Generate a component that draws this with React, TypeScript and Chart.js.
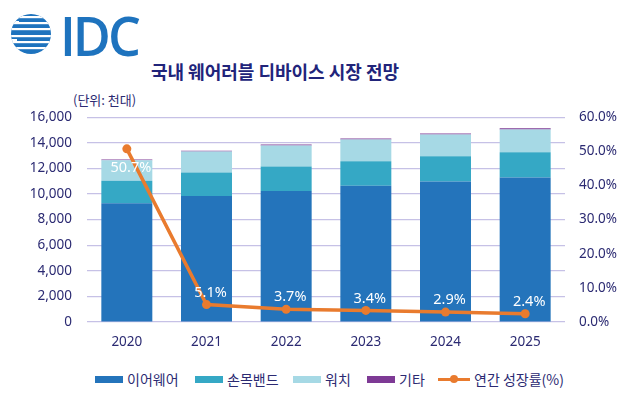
import React, { useEffect, useRef } from "react";
import { Chart, registerables } from "chart.js";

Chart.register(...registerables);

const categories = ["2020", "2021", "2022", "2023", "2024", "2025"];
const earwear = [9270, 9840, 10230, 10640, 10970, 11290];
const wristband = [1760, 1830, 1910, 1920, 1980, 1970];
const watch = [1600, 1650, 1650, 1700, 1700, 1780];
const other = [50, 60, 70, 60, 70, 80];
const growth = [50.7, 5.1, 3.7, 3.4, 2.9, 2.4];

const seriesNames = ["이어웨어", "손목밴드", "워치", "기타", "연간 성장률(%)"];
const colors = ["#2474BB", "#35A8C5", "#A6D9E5", "#7E3A95", "#E97B2E"];

const TITLE = "국내 웨어러블 디바이스 시장 전망";
const UNIT = "(단위: 천대)";

const FONT = "'Noto Sans', 'Noto Sans CJK KR', sans-serif";
const KFONT = "'Noto Sans CJK KR', 'Noto Sans', sans-serif";
const NAVY = "#2B2A72";
const GRID = "#C6C1E6";

const labelPlugin = {
  id: "growthLabels",
  afterDatasetsDraw(chart: any) {
    const idx = chart.data.datasets.findIndex((d: any) => d.type === "line");
    if (idx < 0) return;
    const meta = chart.getDatasetMeta(idx);
    const ctx = chart.ctx;
    ctx.save();
    ctx.fillStyle = "#FFFFFF";
    ctx.font = `14.5px ${FONT}`;
    ctx.textAlign = "center";
    ctx.textBaseline = "middle";
    meta.data.forEach((pt: any, i: number) => {
      const v = chart.data.datasets[idx].data[i];
      const dy = v > 20 ? 19 : -12;
      ctx.fillText(v.toFixed(1) + "%", pt.x + 4, pt.y + dy);
    });
    ctx.restore();
  },
};

function Logo() {
  const stripes = [16, 22, 28, 35, 41, 47];
  return (
    <div style={{ position: "absolute", left: 10, top: 12, height: 44, display: "flex", alignItems: "center" }}>
      <svg width="44" height="44" viewBox="0 0 44 44" style={{ display: "block" }}>
        <defs>
          <clipPath id="gclip">
            <circle cx="21" cy="22" r="20" />
          </clipPath>
        </defs>
        <g clipPath="url(#gclip)">
          <rect x="0" y="0" width="44" height="44" fill="#1E73BE" />
          {stripes.map((y, i) => (
            <rect key={i} x="0" y={y - 12} width="44" height="2.2" fill="#FFFFFF" />
          ))}
          <rect x="0" y="9" width="9" height="2.5" fill="#FFFFFF" />
          <rect x="0" y="27" width="7" height="2.5" fill="#FFFFFF" />
        </g>
      </svg>
      <div
        style={{
          fontFamily: "'Open Sans', sans-serif",
          fontWeight: 600,
          fontSize: 52,
          color: "#1E73BE",
          letterSpacing: -3,
          lineHeight: "44px",
          marginLeft: 6,
          marginTop: 2,
          transform: "scaleY(1.04)",
        }}
      >
        IDC
      </div>
    </div>
  );
}

function Legend() {
  const xs = [95, 195, 293, 367, 438];
  return (
    <>
      {seriesNames.map((name, i) => (
        <div
          key={name}
          style={{ position: "absolute", left: xs[i], top: 369, height: 20, display: "flex", alignItems: "center" }}
        >
          {i < 4 ? (
            <div style={{ width: 28, height: 7, background: colors[i] }} />
          ) : (
            <div style={{ position: "relative", width: 32, height: 10 }}>
              <div style={{ position: "absolute", left: 0, top: 3.5, width: 32, height: 3, background: colors[i] }} />
              <div
                style={{
                  position: "absolute",
                  left: 12,
                  top: 1,
                  width: 8,
                  height: 8,
                  borderRadius: 4,
                  background: colors[i],
                }}
              />
            </div>
          )}
          <span style={{ marginLeft: 4, fontFamily: KFONT, fontSize: 14, color: NAVY, whiteSpace: "nowrap" }}>
            {name}
          </span>
        </div>
      ))}
    </>
  );
}

export default function App() {
  const canvasRef = useRef<HTMLCanvasElement | null>(null);

  useEffect(() => {
    if (!canvasRef.current) return;
    const barSets = [earwear, wristband, watch, other].map((d, i) => ({
      type: "bar" as const,
      label: seriesNames[i],
      data: d,
      backgroundColor: colors[i],
      borderWidth: 0,
      yAxisID: "y",
      order: 1,
      barPercentage: 0.64,
      categoryPercentage: 1,
      stack: "s",
    }));
    const chart = new Chart(canvasRef.current, {
      type: "bar",
      data: {
        labels: categories,
        datasets: [
          ...barSets,
          {
            type: "line" as const,
            label: seriesNames[4],
            data: growth,
            borderColor: colors[4],
            backgroundColor: colors[4],
            borderWidth: 3.5,
            pointRadius: 4.5,
            pointBackgroundColor: colors[4],
            pointBorderWidth: 0,
            yAxisID: "y1",
            order: 0,
            tension: 0,
          } as any,
        ],
      },
      options: {
        animation: false,
        responsive: true,
        maintainAspectRatio: false,
        layout: { padding: { top: 10, left: 0, right: 0, bottom: 0 } },
        plugins: { legend: { display: false }, tooltip: { enabled: false }, title: { display: false } },
        scales: {
          x: {
            stacked: true,
            grid: { display: false, drawTicks: false },
            border: { display: false },
            ticks: { color: NAVY, font: { family: FONT, size: 13.5 }, padding: 12 },
            afterFit: (s: any) => {
              s.height = 38;
            },
          },
          y: {
            stacked: true,
            position: "left",
            min: 0,
            max: 16000,
            ticks: {
              stepSize: 2000,
              color: NAVY,
              font: { family: FONT, size: 13.5 },
              padding: 15,
              callback: (v: any) => Number(v).toLocaleString("en-US"),
            },
            grid: { color: GRID, lineWidth: 1.2, drawTicks: false },
            border: { display: false },
            afterFit: (s: any) => {
              s.width = 87;
            },
          },
          y1: {
            stacked: false,
            position: "right",
            min: 0,
            max: 60,
            ticks: {
              stepSize: 10,
              color: NAVY,
              font: { family: FONT, size: 13.5 },
              padding: 14,
              callback: (v: any) => Number(v).toFixed(1) + "%",
            },
            grid: { display: false, drawTicks: false },
            border: { display: false },
            afterFit: (s: any) => {
              s.width = 62;
            },
          },
        },
      },
      plugins: [labelPlugin],
    });
    return () => chart.destroy();
  }, []);

  return (
    <div style={{ position: "fixed", left: 0, top: 0, width: 627, height: 398, background: "#FFFFFF", overflow: "hidden" }}>
      <Logo />
      <div
        style={{
          position: "absolute",
          left: 0,
          width: 550,
          top: 58,
          textAlign: "center",
          fontFamily: KFONT,
          fontWeight: 700,
          fontSize: 18,
          color: "#21247A",
          lineHeight: "26px",
        }}
      >
        {TITLE}
      </div>
      <div
        style={{
          position: "absolute",
          left: 73,
          top: 90,
          fontFamily: KFONT,
          fontSize: 13,
          color: NAVY,
          lineHeight: "20px",
        }}
      >
        {UNIT}
      </div>
      <div style={{ position: "absolute", left: 0, top: 94, width: 627, height: 266 }}>
        <canvas ref={canvasRef} />
      </div>
      <Legend />
    </div>
  );
}
